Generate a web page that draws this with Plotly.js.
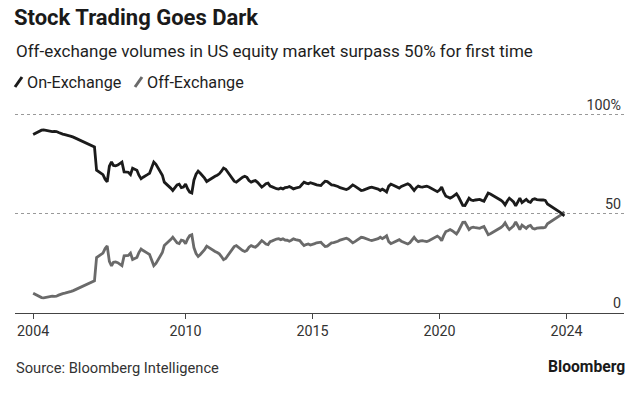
<!DOCTYPE html>
<html><head><meta charset="utf-8">
<script src="https://cdn.plot.ly/plotly-3.0.1.min.js"></script>
<style>html,body{margin:0;padding:0;background:#fff}#chart{width:644px;height:398px}</style>
</head><body><div id="chart"></div>
<script>
const startYear = 2004;
const seriesNames = ['On-Exchange', 'Off-Exchange'];
const seriesColors = ['#1b1b1b', '#6a6a6a'];

// Monthly share of US equity volume (%), Jan 2004 - Dec 2024
const onExchange = [
  90.0, 90.6, 91.3, 91.8, 92.2, 92.4, 92.1, 91.8, 91.6, 91.5, 91.6, 91.5,
  91.0, 90.5, 90.2, 90.0, 89.8, 89.5, 89.1, 88.7, 88.2, 87.5, 87.0, 86.5,
  86.2, 85.8, 85.3, 84.8, 84.3, 83.8, 72.0, 71.3, 70.8, 69.8, 67.5, 66.2,
  74.0, 76.2, 74.4, 74.2, 74.6, 75.5, 76.1, 71.2, 71.0, 71.0, 69.8, 73.0,
  72.5, 72.0, 69.5, 67.7, 68.5, 69.0, 69.8, 70.5, 74.0, 76.1, 75.0, 73.4,
  71.5, 69.5, 66.0, 65.0, 64.3, 63.0, 61.8, 63.5, 64.6, 65.0, 63.2, 63.5,
  65.0, 62.5, 61.0, 60.5, 67.0, 70.0, 71.5, 70.5, 69.3, 68.0, 66.3, 67.0,
  68.0, 68.5, 69.0, 69.5, 70.2, 71.5, 73.1, 72.5, 71.0, 69.5, 68.3, 66.5,
  66.0, 67.0, 68.0, 68.5, 69.0, 68.4, 66.8, 66.0, 66.5, 66.8, 65.9, 64.5,
  63.5, 64.3, 65.2, 65.5, 64.0, 63.6, 63.0, 62.7, 62.5, 63.0, 62.6, 63.2,
  63.3, 63.8, 63.3, 62.6, 63.0, 63.4, 63.5, 64.8, 66.0, 65.5, 65.2, 65.7,
  65.5, 65.0, 64.6, 64.4, 64.3, 65.5, 66.5, 66.3, 65.2, 64.6, 64.5, 64.3,
  63.8, 63.2, 62.8, 62.5, 62.3, 62.8, 63.8, 64.6, 64.0, 63.3, 62.4, 61.8,
  62.0, 62.5, 62.9, 63.2, 63.5, 63.2, 63.0, 62.5, 61.8, 62.5, 61.8, 61.0,
  64.0, 65.0, 64.6, 64.0, 63.5, 63.0, 63.8, 64.3, 64.7, 65.2, 64.5, 63.0,
  61.8, 63.2, 64.0, 63.6, 63.5, 63.8, 64.0, 63.6, 63.0, 62.2, 61.5, 61.2,
  62.0, 63.5, 61.0, 58.9, 58.5, 57.9, 58.5, 59.5, 60.1, 58.5, 56.5, 54.3,
  54.2, 56.5, 57.9, 57.0, 56.7, 57.0, 57.2, 57.3, 56.8, 56.4, 58.5, 60.5,
  60.0, 59.4, 58.8, 58.4, 57.5, 56.9, 56.0, 54.5, 56.5, 57.9, 57.0, 56.0,
  54.0, 56.5, 57.9, 55.7, 56.5, 57.3, 56.2, 55.8, 57.3, 57.6, 57.2, 57.0,
  57.0, 57.0, 56.8, 55.0, 54.3, 53.6, 52.9, 52.5, 51.7, 50.8, 49.8, 49.0
];
const offExchange = [
  10.0, 9.4, 8.7, 8.2, 7.8, 7.6, 7.9, 8.2, 8.4, 8.5, 8.4, 8.5,
  9.0, 9.5, 9.8, 10.0, 10.2, 10.5, 10.9, 11.3, 11.8, 12.5, 13.0, 13.5,
  13.8, 14.2, 14.7, 15.2, 15.7, 16.2, 28.0, 28.7, 29.2, 30.2, 32.5, 33.8,
  26.0, 23.8, 25.6, 25.8, 25.4, 24.5, 23.9, 28.8, 29.0, 29.0, 30.2, 27.0,
  27.5, 28.0, 30.5, 32.3, 31.5, 31.0, 30.2, 29.5, 26.0, 23.9, 25.0, 26.6,
  28.5, 30.5, 34.0, 35.0, 35.7, 37.0, 38.2, 36.5, 35.4, 35.0, 36.8, 36.5,
  35.0, 37.5, 39.0, 39.5, 33.0, 30.0, 28.5, 29.5, 30.7, 32.0, 33.7, 33.0,
  32.0, 31.5, 31.0, 30.5, 29.8, 28.5, 26.9, 27.5, 29.0, 30.5, 31.7, 33.5,
  34.0, 33.0, 32.0, 31.5, 31.0, 31.6, 33.2, 34.0, 33.5, 33.2, 34.1, 35.5,
  36.5, 35.7, 34.8, 34.5, 36.0, 36.4, 37.0, 37.3, 37.5, 37.0, 37.4, 36.8,
  36.7, 36.2, 36.7, 37.4, 37.0, 36.6, 36.5, 35.2, 34.0, 34.5, 34.8, 34.3,
  34.5, 35.0, 35.4, 35.6, 35.7, 34.5, 33.5, 33.7, 34.8, 35.4, 35.5, 35.7,
  36.2, 36.8, 37.2, 37.5, 37.7, 37.2, 36.2, 35.4, 36.0, 36.7, 37.6, 38.2,
  38.0, 37.5, 37.1, 36.8, 36.5, 36.8, 37.0, 37.5, 38.2, 37.5, 38.2, 39.0,
  36.0, 35.0, 35.4, 36.0, 36.5, 37.0, 36.2, 35.7, 35.3, 34.8, 35.5, 37.0,
  38.2, 36.8, 36.0, 36.4, 36.5, 36.2, 36.0, 36.4, 37.0, 37.8, 38.5, 38.8,
  38.0, 36.5, 39.0, 41.1, 41.5, 42.1, 41.5, 40.5, 39.9, 41.5, 43.5, 45.7,
  45.8, 43.5, 42.1, 43.0, 43.3, 43.0, 42.8, 42.7, 43.2, 43.6, 41.5, 39.5,
  40.0, 40.6, 41.2, 41.6, 42.5, 43.1, 44.0, 45.5, 43.5, 42.1, 43.0, 44.0,
  46.0, 43.5, 42.1, 44.3, 43.5, 42.7, 43.8, 44.2, 42.7, 42.4, 42.8, 43.0,
  43.0, 43.0, 43.2, 45.0, 45.7, 46.4, 47.1, 47.5, 48.3, 49.2, 50.2, 51.0
];

const xTickDates = ['2004-01-01', '2010-01-01', '2015-01-01', '2020-01-01', '2025-01-01'];
const xTickLabels = ['2004', '2010', '2015', '2020', '2024'];
const yTickVals = [0, 50, 100];
const yTickLabels = ['0', '50', '100%'];

const titleText = 'Stock Trading Goes Dark';
const subtitleText = 'Off-exchange volumes in US equity market surpass 50% for first time';
const sourceText = 'Source: Bloomberg Intelligence';
const brandText = 'Bloomberg';

const dates = onExchange.map((_, i) => {
  const y = startYear + Math.floor(i / 12);
  const m = (i % 12) + 1;
  return y + '-' + String(m).padStart(2, '0') + '-01';
});

const FONT = 'Roboto, "Noto Sans", sans-serif';
const W = 644, H = 398;
const M = {l: 15, r: 20, t: 85, b: 85};

const traces = [offExchange, onExchange].map((vals, k) => {
  const idx = k === 0 ? 1 : 0;
  return {
    x: dates, y: vals, type: 'scatter', mode: 'lines',
    name: seriesNames[idx],
    line: {color: seriesColors[idx], width: 2.8, shape: 'linear'},
    hoverinfo: 'skip', showlegend: false
  };
});

// helper: pixel -> paper coords
const px = x => (x - M.l) / (W - M.l - M.r);
const py = y => (H - M.b - y) / (H - M.t - M.b);

const legendItems = [
  {x: 14, name: seriesNames[0], color: seriesColors[0]},
  {x: 134, name: seriesNames[1], color: seriesColors[1]}
];
const legendY = 82;

const annotations = [
  {text: subtitleText, x: 14, y: 51, font: {size: 17, color: '#1e1e1e'}},
  {text: sourceText, x: 14, y: 368, font: {size: 14.7, color: '#333'}},
].map(a => ({
  text: a.text, xref: 'paper', yref: 'paper', x: px(a.x), y: py(a.y),
  xanchor: 'left', yanchor: 'middle', showarrow: false, font: Object.assign({family: FONT}, a.font)
}));
annotations.push({
  text: '<b>' + brandText + '</b>', xref: 'paper', yref: 'paper', x: px(627), y: py(366),
  xanchor: 'right', yanchor: 'middle', showarrow: false,
  font: {family: FONT, size: 15.7, color: '#1a1a1a'}
});
legendItems.forEach(it => {
  annotations.push({
    text: it.name, xref: 'paper', yref: 'paper', x: px(it.x + 11), y: py(legendY),
    xanchor: 'left', yanchor: 'middle', showarrow: false,
    font: {family: FONT, size: 16.2, color: '#1e1e1e'}
  });
});

const shapes = legendItems.map(it => ({
  type: 'line', xref: 'paper', yref: 'paper',
  x0: px(it.x + 1), y0: py(legendY + 5), x1: px(it.x + 8), y1: py(legendY - 5),
  line: {color: it.color, width: 3}
}));

const layout = {
  width: W, height: H,
  margin: M,
  paper_bgcolor: '#fff', plot_bgcolor: '#fff',
  font: {family: FONT, color: '#333'},
  title: {
    text: '<b>' + titleText + '</b>', xref: 'container', yref: 'container',
    x: 14 / W, xanchor: 'left', y: 1 - 17 / H, yanchor: 'middle',
    font: {family: FONT, size: 22, color: '#1a1a1a'}
  },
  xaxis: {
    type: 'date', range: ['2003-04-15', '2027-04-07'],
    tickmode: 'array', tickvals: xTickDates, ticktext: xTickLabels,
    showgrid: false, zeroline: false,
    showline: true, linecolor: '#444', linewidth: 1.3,
    ticks: 'outside', ticklen: 5, tickcolor: '#444', tickwidth: 1.3,
    tickfont: {family: FONT, size: 14.3, color: '#333'}
  },
  yaxis: {
    range: [0, 115], side: 'right',
    tickmode: 'array', tickvals: yTickVals, ticktext: yTickLabels,
    ticklabelposition: 'inside top',
    showgrid: true, gridcolor: '#999', gridwidth: 1, griddash: 'dot',
    zeroline: false, showline: false, ticks: '',
    tickfont: {family: FONT, size: 14.3, color: '#333'}
  },
  annotations: annotations,
  shapes: shapes,
  showlegend: false
};

Plotly.newPlot('chart', traces, layout, {displayModeBar: false, staticPlot: true});
</script>
</body></html>
